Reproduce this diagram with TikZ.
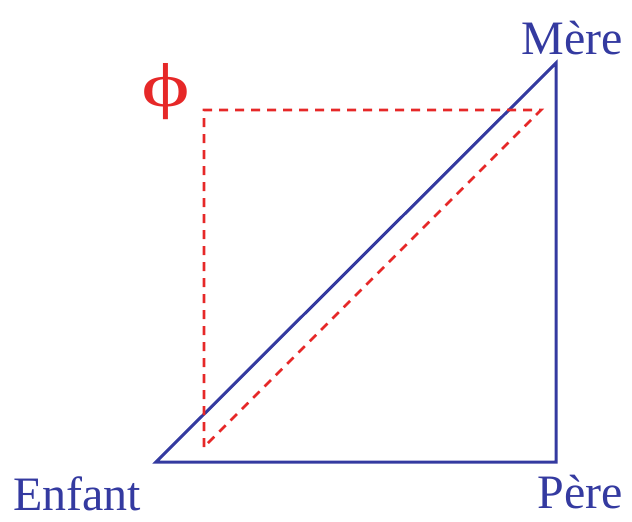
\documentclass[tikz,border=0pt]{standalone}
\usepackage{fontspec}
\setmainfont{Liberation Serif}
\usepackage{tikz}
\usetikzlibrary{positioning,calc}
\definecolor{kinblue}{RGB}{52,58,160}
\definecolor{kinred}{RGB}{230,40,40}

\begin{document}
\begin{tikzpicture}[x=1pt,y=-1pt,
  kinlabel/.style={text=kinblue,font=\fontsize{48}{54}\selectfont,inner sep=0pt},
  bluetri/.style={draw=kinblue,line width=3pt,line join=miter},
  redtri/.style={draw=kinred,line width=2.6pt,dash pattern=on 9pt off 7pt}
]
  \useasboundingbox (0,0) rectangle (632,522);

  % blue triangle
  \coordinate (enfant) at (156,462);
  \coordinate (pere) at (556,462);
  \coordinate (mere) at (556,63);
  \draw[bluetri] (enfant) -- (pere) -- (mere) -- cycle;

  % red dashed triangle
  \coordinate (phicorner) at (204,110);
  \coordinate (phiright) at (541,110);
  \coordinate (phibottom) at (204,447);
  \draw[redtri] (phibottom) -- (phicorner) -- (phiright) -- cycle;

  \node[kinlabel] (lenfant) at (77,494) {Enfant};
  \node[kinlabel] (lpere) at (580,492) {Père};
  \node[kinlabel] (lmere) at (572,38) {Mère};
  \node[kinlabel,text=kinred,font=\fontsize{62}{66}\selectfont] (lphi) at (166,92) {\scalebox{1.5}[1]{ϕ}};
\end{tikzpicture}
\end{document}
